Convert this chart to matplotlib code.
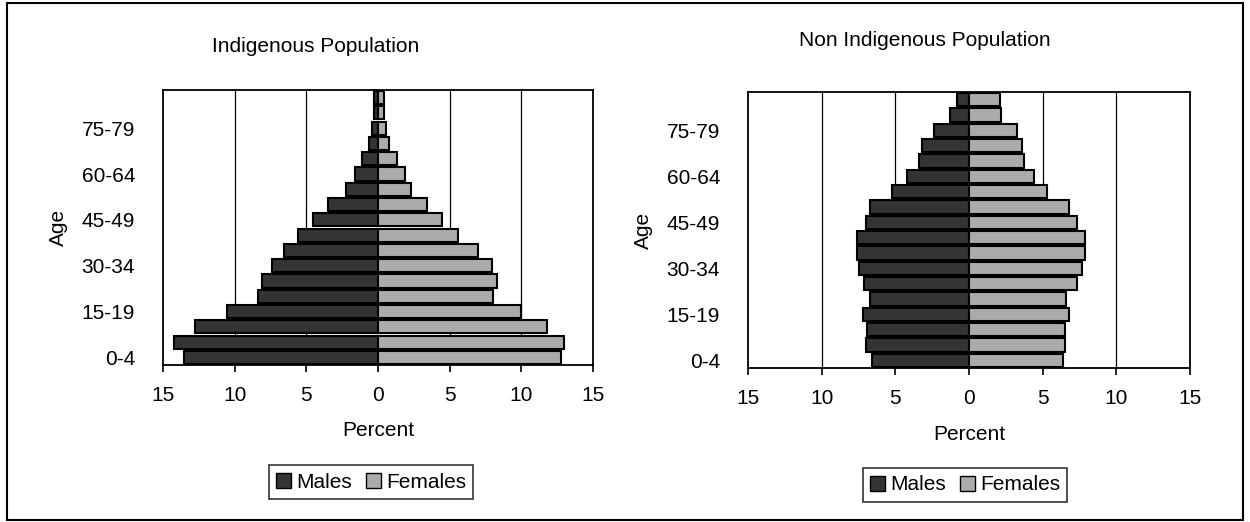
import matplotlib
matplotlib.use("Agg")
import matplotlib.pyplot as plt
from matplotlib.patches import Patch, Rectangle
import numpy as np

plt.rcParams['font.family'] = ['Liberation Sans', 'DejaVu Sans']

ages = ['0-4', '5-9', '10-14', '15-19', '20-24', '25-29', '30-34', '35-39', '40-44',
        '45-49', '50-54', '55-59', '60-64', '65-69', '70-74', '75-79', '80-84', '85+']

ind_males = [13.5, 14.2, 12.8, 10.5, 8.35, 8.1, 7.4, 6.55, 5.6,
             4.5, 3.5, 2.25, 1.6, 1.15, 0.65, 0.45, 0.3, 0.25]
ind_females = [12.8, 13.0, 11.8, 9.95, 8.0, 8.3, 7.95, 7.0, 5.6,
               4.5, 3.4, 2.3, 1.85, 1.3, 0.8, 0.55, 0.45, 0.4]

non_males = [6.6, 7.0, 6.9, 7.2, 6.75, 7.15, 7.5, 7.6, 7.6,
             7.0, 6.7, 5.2, 4.2, 3.4, 3.2, 2.4, 1.3, 0.8]
non_females = [6.4, 6.5, 6.5, 6.8, 6.55, 7.3, 7.7, 7.85, 7.9,
               7.3, 6.8, 5.3, 4.4, 3.7, 3.6, 3.25, 2.15, 2.1]

male_col = '#343434'
female_col = '#ababab'

W, H = 1250, 522
fig = plt.figure(figsize=(W / 100, H / 100), dpi=100)


def pyramid(rect, males, females, title, title_xy, legend_xy):
    ax = fig.add_axes(rect)
    y = np.arange(len(ages))
    ax.barh(y, [-m for m in males], height=0.86, color=male_col,
            edgecolor='black', linewidth=1.5, zorder=3)
    ax.barh(y, females, height=0.86, color=female_col,
            edgecolor='black', linewidth=1.5, zorder=3)
    ax.set_xlim(-15, 15)
    ax.set_ylim(-0.5, len(ages) - 0.5)
    ticks = [-15, -10, -5, 0, 5, 10, 15]
    ax.set_xticks(ticks)
    ax.set_xticklabels([str(abs(t)) for t in ticks], fontsize=15)
    ax.set_yticks(y[::3])
    ax.set_yticklabels(ages[::3], fontsize=15)
    ax.tick_params(axis='y', length=0, pad=20)
    ax.tick_params(axis='x', direction='out', length=5, width=1.2, pad=10)
    for g in [-10, -5, 5, 10]:
        ax.axvline(g, color='black', linewidth=0.9, zorder=1)
    for s in ax.spines.values():
        s.set_linewidth(1.3)
    ax.set_xlabel('Percent', fontsize=15, labelpad=12)
    ax.set_ylabel('Age', fontsize=15, labelpad=10)
    fig.text(title_xy[0] / W, 1 - title_xy[1] / H, title, fontsize=15,
             ha='center', va='center')
    handles = [Patch(facecolor=male_col, edgecolor='black', label='Males'),
               Patch(facecolor=female_col, edgecolor='black', label='Females')]
    leg = fig.legend(handles=handles, loc='center',
                     bbox_to_anchor=(legend_xy[0] / W, 1 - legend_xy[1] / H),
                     ncol=2, fontsize=15, frameon=True, fancybox=False,
                     edgecolor='black', handlelength=0.7, handleheight=0.7,
                     handletextpad=0.25, columnspacing=0.7, borderpad=0.35)
    leg.get_frame().set_linewidth(1.2)
    return ax


pyramid([163 / W, 1 - 365 / H, 430 / W, 275 / H], ind_males, ind_females,
        'Indigenous Population', (316, 47), (371, 482))
pyramid([748 / W, 1 - 368 / H, 442 / W, 276 / H], non_males, non_females,
        'Non Indigenous Population', (925, 40), (965, 485))

fig.patches.append(Rectangle((7 / W, 2 / H), 1236 / W, 517 / H, transform=fig.transFigure,
                             fill=False, edgecolor='black', linewidth=1.5))

fig.savefig('out.png', dpi=100)
